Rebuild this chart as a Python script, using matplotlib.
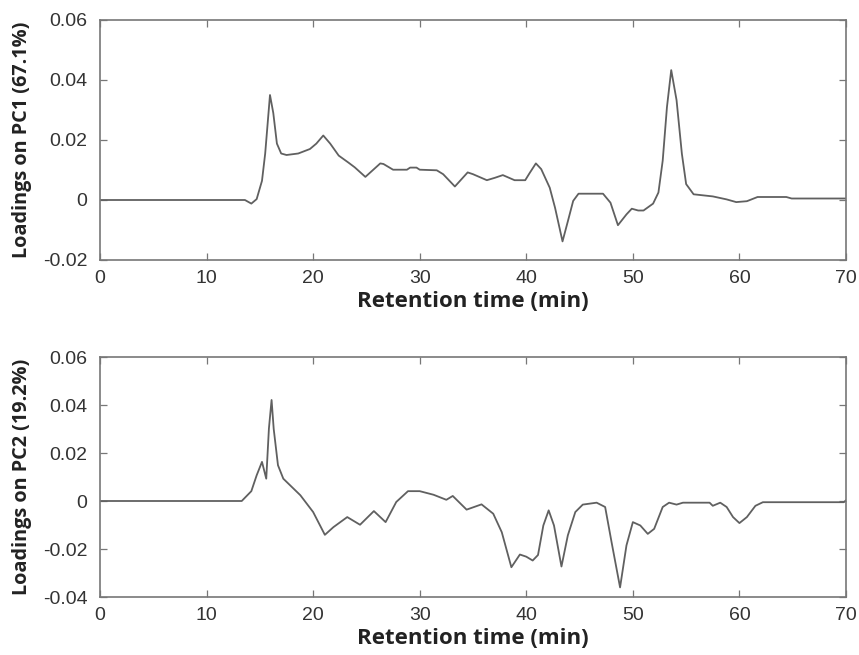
import matplotlib
matplotlib.use("Agg")
import matplotlib.pyplot as plt
import numpy as np

# PC1 loadings (retention time in min, loading)
pc1_time = [0, 13.6, 14.2, 14.7, 15.2, 15.5, 15.95, 16.26, 16.6, 17.0, 17.5, 18.6, 19.7, 20.3,
            20.95, 21.6, 22.4, 23.3, 23.9, 24.9, 26.3, 26.6, 27.5, 28.8, 29.1, 29.7, 30.0,
            31.6, 32.2, 33.3, 34.5, 35.0, 36.3, 37.05, 37.8, 38.9, 39.9, 40.3, 40.9, 41.4,
            42.2, 42.7, 43.4, 43.9, 44.4, 44.9, 47.2, 47.9, 48.6, 49.4, 49.9, 50.5, 51.0,
            51.9, 52.4, 52.8, 53.2, 53.6, 54.1, 54.6, 55.0, 55.7, 57.5, 58.8, 59.7, 60.7,
            61.7, 64.4, 64.9, 70.0]
pc1_load = [0.0, 0.0, -0.0012, 0.0003, 0.0064, 0.0155, 0.035, 0.029, 0.0188, 0.0155, 0.015,
            0.0155, 0.017, 0.0188, 0.0215, 0.0188, 0.0148, 0.0125, 0.0109, 0.0077, 0.0122,
            0.012, 0.0101, 0.0101, 0.0108, 0.0108, 0.0101, 0.0099, 0.0086, 0.0045, 0.0092,
            0.0086, 0.0066, 0.0074, 0.0083, 0.0066, 0.0066, 0.0089, 0.0122, 0.0103, 0.0041,
            -0.0026, -0.0138, -0.0071, -0.0003, 0.0021, 0.0021, -0.0009, -0.0084, -0.0048,
            -0.0029, -0.0035, -0.0035, -0.0012, 0.0025, 0.0131, 0.031, 0.0433, 0.0333,
            0.0154, 0.0053, 0.0019, 0.0012, 0.0002, -0.0007, -0.0004, 0.001, 0.001, 0.0005,
            0.0005]

# PC2 loadings
pc2_time = [0, 13.3, 14.2, 14.7, 15.2, 15.6, 15.85, 16.1, 16.3, 16.7, 17.2, 18.8, 20.0, 21.1,
            21.9, 23.2, 24.4, 25.7, 26.8, 27.8, 28.9, 30.0, 31.3, 32.5, 33.1, 34.4, 35.8,
            36.9, 37.7, 38.6, 39.4, 40.0, 40.6, 41.1, 41.6, 42.1, 42.6, 43.3, 43.9, 44.6,
            45.3, 46.6, 47.4, 48.0, 48.8, 49.4, 50.0, 50.7, 51.4, 52.0, 52.8, 53.4, 54.1,
            54.7, 57.2, 57.5, 58.2, 58.8, 59.4, 60.0, 60.7, 61.5, 62.2, 69.8, 70.0]
pc2_load = [0.0, 0.0, 0.0041, 0.0107, 0.0163, 0.0093, 0.0302, 0.0421, 0.030, 0.0149, 0.0093,
            0.0024, -0.0046, -0.0141, -0.0109, -0.0067, -0.0099, -0.0042, -0.0088, -0.0004,
            0.0041, 0.0041, 0.0026, 0.0005, 0.0021, -0.0036, -0.0014, -0.0053, -0.013,
            -0.0276, -0.0223, -0.0232, -0.0248, -0.0225, -0.0102, -0.0039, -0.0102, -0.0273,
            -0.0143, -0.0046, -0.0015, -0.0007, -0.0025, -0.0171, -0.036, -0.0185, -0.0088,
            -0.0102, -0.0137, -0.0116, -0.0025, -0.0007, -0.0015, -0.0007, -0.0007, -0.002,
            -0.0007, -0.0025, -0.0067, -0.0092, -0.0067, -0.002, -0.0005, -0.0005, 0.0003]

x_ticks = [0, 10, 20, 30, 40, 50, 60, 70]
y1_ticks = [-0.02, 0, 0.02, 0.04, 0.06]
y1_labels = ["-0.02", "0", "0.02", "0.04", "0.06"]
y2_ticks = [-0.04, -0.02, 0, 0.02, 0.04, 0.06]
y2_labels = ["-0.04", "-0.02", "0", "0.02", "0.04", "0.06"]

W, H = 859, 655
fig = plt.figure(figsize=(W / 100, H / 100), dpi=100)

def axes_px(l, t, r, b):
    return fig.add_axes([l / W, 1 - b / H, (r - l) / W, (b - t) / H])

ax1 = axes_px(100, 20, 846, 260)
ax2 = axes_px(100, 357, 846, 597)

tick_font = dict(family=["Liberation Sans", "DejaVu Sans"], size=14)
xlabel_font = dict(family=["Open Sans", "DejaVu Sans"], weight="bold", size=16)
ylabel_font = dict(family=["Open Sans", "DejaVu Sans"], weight="bold", size=14.3)

def style(ax, yt, yl, ylim, ylabel):
    ax.set_xlim(0, 70)
    ax.set_ylim(*ylim)
    ax.set_xticks(x_ticks)
    ax.set_xticklabels([str(v) for v in x_ticks], **tick_font, color="#333333")
    ax.set_yticks(yt)
    ax.set_yticklabels(yl, **tick_font, color="#333333")
    ax.tick_params(direction="in", length=5, width=0.9, color="#777777",
                   top=True, right=True)
    ax.tick_params(axis="x", pad=7)
    ax.tick_params(axis="y", pad=9)
    for s in ax.spines.values():
        s.set_color("#777777")
        s.set_linewidth(1.2)
    ax.set_xlabel("Retention time (min)", **xlabel_font, color="#222222", labelpad=3)
    ax.set_ylabel(ylabel, **ylabel_font, color="#222222", labelpad=8)

ax1.plot(pc1_time, pc1_load, color="#606060", lw=1.3)
ax2.plot(pc2_time, pc2_load, color="#606060", lw=1.3)
style(ax1, y1_ticks, y1_labels, (-0.02, 0.06), "Loadings on PC1 (67.1%)")
style(ax2, y2_ticks, y2_labels, (-0.04, 0.06), "Loadings on PC2 (19.2%)")

fig.savefig("out.png", dpi=100, facecolor="white")
